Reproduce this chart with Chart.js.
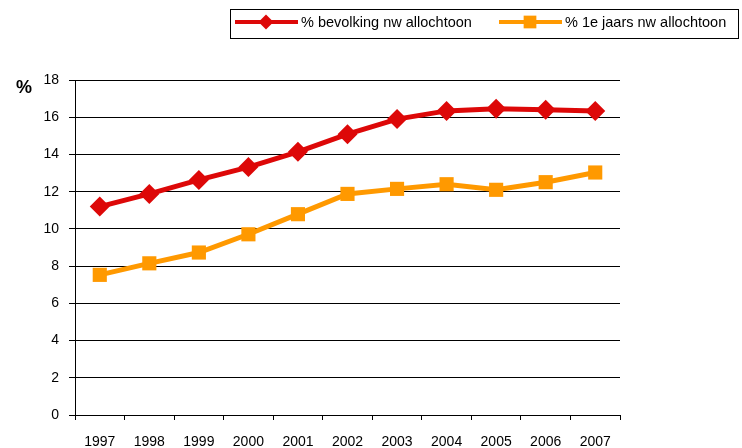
<!DOCTYPE html>
<html>
<head>
<meta charset="utf-8">
<script src="https://cdn.jsdelivr.net/npm/chart.js@4.4.0/dist/chart.umd.min.js"></script>
<style>
html, body { margin: 0; padding: 0; background: #fff; }
</style>
</head>
<body>
<canvas id="chart" width="742" height="448"></canvas>
<script>
var years = ['1997', '1998', '1999', '2000', '2001', '2002', '2003', '2004', '2005', '2006', '2007'];
var bevolking = [11.2, 11.88, 12.63, 13.32, 14.14, 15.09, 15.9, 16.34, 16.45, 16.4, 16.33];
var eerstejaars = [7.53, 8.15, 8.73, 9.71, 10.79, 11.88, 12.15, 12.4, 12.1, 12.51, 13.03];
var seriesNames = ['% bevolking nw allochtoon', '% 1e jaars nw allochtoon'];
var yMin = 0, yMax = 18, yStep = 2;

var FONT = '"Liberation Sans", Arial, sans-serif';
var RED = '#DD0808';
var ORANGE = '#FF9900';

// legend in a box above the plot, plus the "%" axis title
var extras = {
  id: 'extras',
  afterDraw: function(chart) {
    var ctx = chart.ctx;
    ctx.save();
    ctx.strokeStyle = '#000';
    ctx.lineWidth = 1;
    ctx.strokeRect(230.5, 9.5, 508, 29);

    var starts = [235, 499];
    chart.data.datasets.forEach(function(ds, i) {
      var x0 = starts[i], y = 22;
      ctx.strokeStyle = ds.borderColor;
      ctx.lineWidth = 4;
      ctx.beginPath();
      ctx.moveTo(x0, y);
      ctx.lineTo(x0 + 63, y);
      ctx.stroke();
      ctx.fillStyle = ds.borderColor;
      Chart.helpers.drawPoint(ctx, {
        pointStyle: ds.pointStyle,
        rotation: 0,
        borderWidth: 0,
        radius: ds.pointStyle === 'rect' ? 9 : 7.5
      }, x0 + 31, y);
      ctx.fillStyle = '#000';
      ctx.font = '14.5px ' + FONT;
      ctx.textBaseline = 'middle';
      ctx.textAlign = 'left';
      ctx.fillText(ds.label, x0 + 66, y + 1);
    });

    ctx.font = 'bold 18px ' + FONT;
    ctx.fillStyle = '#000';
    ctx.textAlign = 'center';
    ctx.textBaseline = 'middle';
    ctx.fillText('%', 24, 88);
    ctx.restore();
  }
};

new Chart(document.getElementById('chart').getContext('2d'), {
  type: 'line',
  data: {
    labels: years,
    datasets: [
      {
        label: seriesNames[0],
        data: bevolking,
        borderColor: RED,
        backgroundColor: RED,
        borderWidth: 5,
        pointStyle: 'rectRot',
        pointRadius: 10,
        pointBorderWidth: 0,
        tension: 0
      },
      {
        label: seriesNames[1],
        data: eerstejaars,
        borderColor: ORANGE,
        backgroundColor: ORANGE,
        borderWidth: 5,
        pointStyle: 'rect',
        pointRadius: 10,
        pointBorderWidth: 0,
        tension: 0
      }
    ]
  },
  options: {
    responsive: false,
    animation: false,
    layout: { padding: { top: 80, right: 122, left: 0, bottom: 0 } },
    plugins: {
      legend: { display: false },
      tooltip: { enabled: false }
    },
    scales: {
      x: {
        type: 'category',
        offset: true,
        grid: {
          offset: true,
          drawOnChartArea: false,
          color: '#000',
          tickLength: 5
        },
        border: { color: '#000', width: 1 },
        ticks: {
          color: '#000',
          font: { family: FONT, size: 14 },
          padding: 14,
          maxRotation: 0
        },
        afterFit: function(scale) { scale.height = 33; }
      },
      y: {
        min: yMin,
        max: yMax,
        grid: {
          color: '#000',
          tickLength: 6
        },
        border: { color: '#000', width: 1 },
        ticks: {
          stepSize: yStep,
          color: '#000',
          font: { family: FONT, size: 14 },
          padding: 10
        },
        afterFit: function(scale) { scale.width = 75; }
      }
    }
  },
  plugins: [extras]
});
</script>
</body>
</html>
